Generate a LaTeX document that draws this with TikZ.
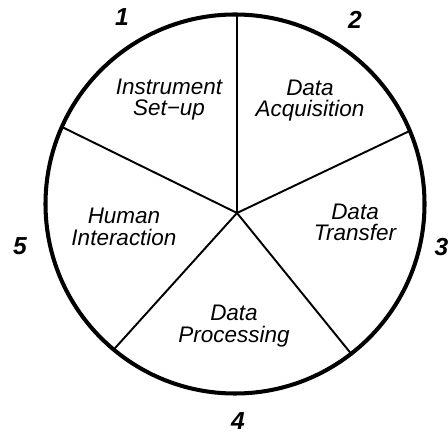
\documentclass[tikz,border=0pt]{standalone}
\usepackage{fontspec}
\setmainfont{Liberation Sans}
\usetikzlibrary{calc}

\begin{document}
\begin{tikzpicture}[x=0.02cm, y=0.02cm,
	phase/.style={align=center, inner sep=0pt, font=\fontsize{12.8}{12.3}\selectfont\itshape},
	stepnum/.style={inner sep=0pt, font=\fontsize{14}{16}\selectfont\bfseries\itshape}]
			%%%%% START %%%%%
			\useasboundingbox (0, 0) rectangle (448, 432);
			
			\coordinate (c) at (235, 228);
			\coordinate (hub) at (237, 219);
			\draw[line width=2.3pt] (c) circle (189.5);
			
			\coordinate (rimA) at ($(c)+(89.4:189.5)$);
			\coordinate (rimB) at ($(c)+(22.7:189.5)$);
			\coordinate (rimC) at ($(c)+(-52.2:189.5)$);
			\coordinate (rimD) at ($(c)+(230.2:189.5)$);
			\coordinate (rimE) at ($(c)+(156:189.5)$);
			
			\draw[line width=1.1pt] (hub) -- (rimA);
			\draw[line width=1.1pt] (hub) -- (rimB);
			\draw[line width=1.1pt] (hub) -- (rimC);
			\draw[line width=1.1pt] (hub) -- (rimD);
			\draw[line width=1.1pt] (hub) -- (rimE);
			
			\node[phase] (setup) at (169, 332.5) {Instrument\\Set−up};
			\node[phase] (acq) at (310, 331.5) {Data\\Acquisition};
			\node[phase] (transfer) at (355, 209.5) {Data\\Transfer};
			\node[phase] (human) at (124, 205) {Human\\Interaction};
			\node[phase] (proc) at (234, 106) {Data\\Processing};
			
			\node[stepnum] (n1) at (122, 415) {1};
			\node[stepnum] (n2) at (355, 412) {2};
			\node[stepnum] (n3) at (441.5, 185) {3};
			\node[stepnum] (n4) at (238, 11) {4};
			\node[stepnum] (n5) at (20, 186) {5};
			%%%%% END %%%%%
\end{tikzpicture}
\end{document}
